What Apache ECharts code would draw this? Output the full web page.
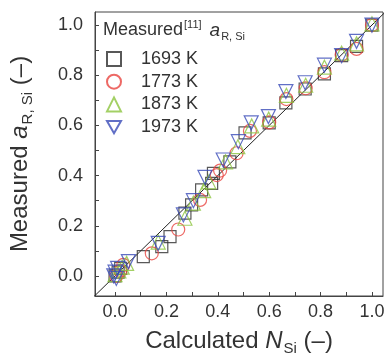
<!DOCTYPE html>
<html>
<head>
<meta charset="utf-8">
<script src="https://cdn.jsdelivr.net/npm/echarts@6/dist/echarts.min.js"></script>
<style>
  html, body { margin: 0; padding: 0; background: #fff; }
  #chart { width: 387px; height: 355px; }
</style>
</head>
<body>
<div id="chart"></div>
<script>
// [calculated N_Si, measured a_R,Si]
const temps = ["1693 K", "1773 K", "1873 K", "1973 K"];
const colors = ["#2e2e2e", "#e8433e", "#8cc43e", "#3a4bb8"];

const s1693 = [
  [0.0, 0.0], [0.012, 0.015], [0.022, 0.03], [0.11, 0.077], [0.182, 0.117],
  [0.214, 0.157], [0.272, 0.25], [0.298, 0.283], [0.337, 0.343], [0.376, 0.369],
  [0.383, 0.409], [0.447, 0.455], [0.506, 0.57], [0.6, 0.61], [0.665, 0.69],
  [0.74, 0.745], [0.815, 0.805], [0.882, 0.878], [0.94, 0.915], [1.0, 1.0]
];
const s1773 = [
  [0.005, 0.0], [0.02, 0.02], [0.032, 0.044], [0.143, 0.09], [0.246, 0.185],
  [0.331, 0.303], [0.396, 0.402], [0.409, 0.42], [0.473, 0.489], [0.525, 0.578],
  [0.6, 0.612], [0.667, 0.705], [0.742, 0.748], [0.815, 0.812], [0.882, 0.882],
  [0.94, 0.905], [1.0, 1.0]
];
const s1873 = [
  [0.0, 0.005], [0.015, 0.02], [0.028, 0.035], [0.045, 0.05], [0.168, 0.135],
  [0.272, 0.23], [0.305, 0.29], [0.345, 0.34], [0.365, 0.375], [0.43, 0.455],
  [0.478, 0.515], [0.532, 0.598], [0.598, 0.625], [0.667, 0.72], [0.742, 0.76],
  [0.815, 0.832], [0.882, 0.888], [0.94, 0.925], [1.0, 1.005]
];
const s1973 = [
  [-0.005, 0.0], [0.0, 0.015], [0.01, 0.03], [0.005, -0.01], [0.052, 0.057],
  [0.168, 0.13], [0.266, 0.243], [0.305, 0.3], [0.35, 0.393], [0.421, 0.462],
  [0.48, 0.535], [0.53, 0.61], [0.597, 0.635], [0.665, 0.735], [0.74, 0.77],
  [0.815, 0.84], [0.882, 0.878], [0.94, 0.935], [1.0, 1.0]
];
const parity = [[-0.1, -0.1], [1.1, 1.1]];

const tickValues = [0, 0.1, 0.2, 0.3, 0.4, 0.5, 0.6, 0.7, 0.8, 0.9, 1.0];
const labelValues = [0, 0.2, 0.4, 0.6, 0.8, 1.0];

const font = '"Liberation Sans", Arial, sans-serif';
const invTriangle = "path://M0,0L10,0L5,8.66Z";

const chart = echarts.init(document.getElementById("chart"));

function axis(min, max) {
  return {
    type: "value",
    min: min,
    max: max,
    splitLine: { show: false },
    axisLine: { show: true, onZero: false, lineStyle: { color: "#444", width: 1 } },
    axisTick: {
      show: true,
      inside: true,
      length: 4,
      customValues: tickValues,
      lineStyle: { color: "#444" },
    },
    axisLabel: {
      customValues: labelValues,
      formatter: (v) => v.toFixed(1),
      color: "#333",
      fontSize: 18,
      fontFamily: font,
    },
  };
}

function scatter(name, data, symbol, size, color) {
  return {
    name: name,
    type: "scatter",
    data: data,
    symbol: symbol,
    symbolSize: size,
    itemStyle: { color: "rgba(0,0,0,0)", borderColor: color, borderWidth: 1.2 },
    emphasis: { disabled: true },
    z: 3,
  };
}

function nameStyle() {
  return {
    fontSize: 24, fontFamily: font, color: "#333",
    rich: {
      i: { fontSize: 24, fontStyle: "italic", fontFamily: font, color: "#333" },
      sub: { fontSize: 15, fontFamily: font, color: "#333", padding: [15, 0, 0, 1] },
    },
  };
}

const xAxis = axis(-0.078, 1.043);
xAxis.axisLabel.margin = 7;
xAxis.name = "Calculated {i|N}{sub|Si} (–)";
xAxis.nameLocation = "middle";
xAxis.nameGap = 30;
xAxis.nameTextStyle = nameStyle();

const yAxis = axis(-0.08, 1.052);
yAxis.axisLabel.margin = 12;
yAxis.name = "Measured {i|a}{sub|R, Si} (–)";
yAxis.nameLocation = "middle";
yAxis.nameGap = 60;
yAxis.nameTextStyle = nameStyle();

chart.setOption({
  animation: false,
  backgroundColor: "#fff",
  grid: {
    left: 95, top: 12, width: 288, height: 284,
    outerBoundsMode: "none",
    containLabel: false,
    show: true, borderColor: "#444", borderWidth: 1,
  },
  xAxis: xAxis,
  yAxis: yAxis,
  legend: {
    data: temps,
    orient: "vertical",
    left: 106,
    top: 50,
    padding: 0,
    itemWidth: 14,
    itemHeight: 14,
    itemGap: 4.7,
    formatter: (n) => "{t|" + n + "}",
    textStyle: {
      fontSize: 18, fontFamily: font, color: "#333",
      rich: { t: { fontSize: 18, fontFamily: font, color: "#333", padding: [0, 0, 0, 15], lineHeight: 18 } },
    },
    selectedMode: false,
  },
  graphic: [
    {
      type: "text",
      left: 103,
      top: 19,
      style: {
        text: "Measured{sup|[11]} {i|a}{sub|R, Si}",
        fontSize: 18,
        fontFamily: font,
        fill: "#333",
        rich: {
          sup: { fontSize: 11, fontFamily: font, fill: "#333", padding: [0, 0, 12, 1] },
          i: { fontSize: 19, fontStyle: "italic", fontFamily: font, fill: "#333", padding: [0, 0, 0, 3] },
          sub: { fontSize: 11, fontFamily: font, fill: "#333", padding: [12, 0, 0, 1] },
        },
      },
    },
  ],
  series: [
    {
      type: "line",
      data: parity,
      symbol: "none",
      lineStyle: { color: "#222", width: 1 },
      silent: true,
      z: 2,
    },
    scatter(temps[0], s1693, "rect", 12, colors[0]),
    scatter(temps[1], s1773, "circle", 13, colors[1]),
    scatter(temps[2], s1873, "triangle", 14, colors[2]),
    scatter(temps[3], s1973, invTriangle, 14, colors[3]),
  ],
});
</script>
</body>
</html>
